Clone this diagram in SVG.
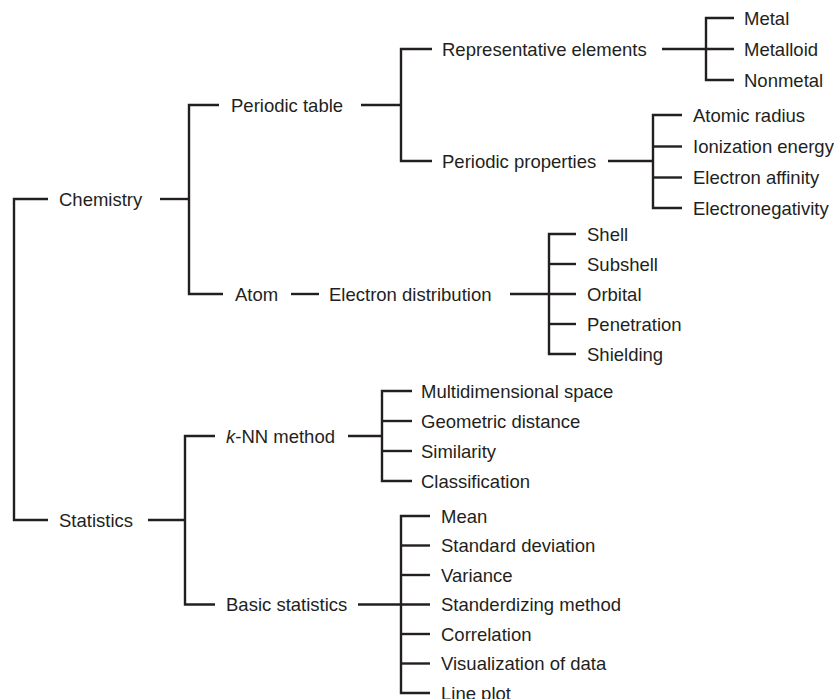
<svg xmlns="http://www.w3.org/2000/svg" width="834" height="699" viewBox="0 0 834 699">
<style>
text{font-family:"Liberation Sans",Arial,sans-serif;font-size:18.5px;fill:#231f20}
.c path{fill:none;stroke:#231f20;stroke-width:2.4}
</style>
<rect width="834" height="699" fill="#fff"/>
<g class="c" id="connectors">
<path d="M48,199 H14 V520 H48"/>
<path d="M160,199 H189"/>
<path d="M219,105 H189 V294 H223"/>
<path d="M361,105 H401"/>
<path d="M432,49 H401 V161 H432"/>
<path d="M662,49 H734"/>
<path d="M734,18 H706 V80 H734"/>
<path d="M608,161 H653"/>
<path d="M682,115 H653 V208 H682"/>
<path d="M653,146.5 H682"/>
<path d="M653,177.5 H682"/>
<path d="M291,294 H319"/>
<path d="M510,294 H576"/>
<path d="M576,234 H549 V354 H576"/>
<path d="M549,264 H576"/>
<path d="M549,324 H576"/>
<path d="M148,520 H185"/>
<path d="M215,436 H185 V604.5 H215"/>
<path d="M348,436 H382"/>
<path d="M412,391 H382 V481 H412"/>
<path d="M382,421 H412"/>
<path d="M382,451 H412"/>
<path d="M358,604.5 H430"/>
<path d="M430,516 H401 V693 H430"/>
<path d="M401,545.5 H430"/>
<path d="M401,575 H430"/>
<path d="M401,634 H430"/>
<path d="M401,663.5 H430"/>
</g>
<g id="chemistry"><text x="59" y="205.7">Chemistry</text></g>
<g id="statistics"><text x="59" y="526.7">Statistics</text></g>
<g id="periodic-table"><text x="231" y="111.7">Periodic table</text></g>
<g id="atom"><text x="235" y="300.7">Atom</text></g>
<g id="knn"><text x="226" y="442.7"><tspan font-style="italic">k</tspan>-NN method</text></g>
<g id="basic-statistics"><text x="226" y="611.2">Basic statistics</text></g>
<g id="representative-elements"><text x="442" y="55.7">Representative elements</text></g>
<g id="periodic-properties"><text x="442" y="167.7">Periodic properties</text></g>
<g id="metal"><text x="744" y="24.7">Metal</text></g>
<g id="metalloid"><text x="744" y="55.7">Metalloid</text></g>
<g id="nonmetal"><text x="744" y="86.7">Nonmetal</text></g>
<g id="atomic-radius"><text x="693" y="121.7">Atomic radius</text></g>
<g id="ionization-energy"><text x="693" y="153.2">Ionization energy</text></g>
<g id="electron-affinity"><text x="693" y="184.2">Electron affinity</text></g>
<g id="electronegativity"><text x="693" y="214.7">Electronegativity</text></g>
<g id="electron-distribution"><text x="329" y="300.7">Electron distribution</text></g>
<g id="shell"><text x="587" y="240.7">Shell</text></g>
<g id="subshell"><text x="587" y="270.7">Subshell</text></g>
<g id="orbital"><text x="587" y="300.7">Orbital</text></g>
<g id="penetration"><text x="587" y="330.7">Penetration</text></g>
<g id="shielding"><text x="587" y="360.7">Shielding</text></g>
<g id="multidimensional-space"><text x="421" y="397.7">Multidimensional space</text></g>
<g id="geometric-distance"><text x="421" y="427.7">Geometric distance</text></g>
<g id="similarity"><text x="421" y="457.7">Similarity</text></g>
<g id="classification"><text x="421" y="487.7">Classification</text></g>
<g id="mean"><text x="441" y="522.7">Mean</text></g>
<g id="standard-deviation"><text x="441" y="552.2">Standard deviation</text></g>
<g id="variance"><text x="441" y="581.7">Variance</text></g>
<g id="standerdizing-method"><text x="441" y="611.2">Standerdizing method</text></g>
<g id="correlation"><text x="441" y="640.7">Correlation</text></g>
<g id="visualization"><text x="441" y="670.2">Visualization of data</text></g>
<g id="line-plot"><text x="441" y="699.7">Line plot</text></g>
</svg>
